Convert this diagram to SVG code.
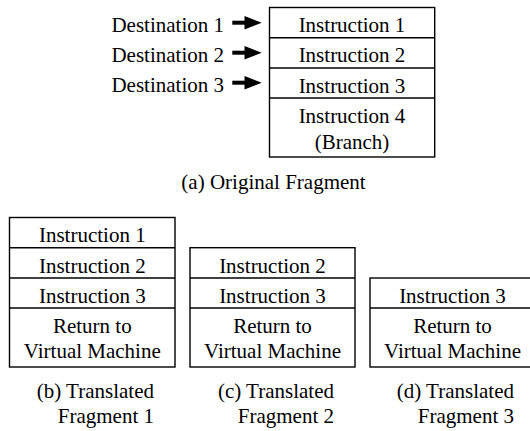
<svg xmlns="http://www.w3.org/2000/svg" width="530" height="431" viewBox="0 0 530 431">
<defs>
<style>
text{font-family:"Liberation Serif","Times New Roman",Times,serif;font-size:21px;fill:#000}
.c{text-anchor:middle}
.e{text-anchor:end}
.box{fill:#fff;stroke:#000;stroke-width:1.4}
.ln{stroke:#000;stroke-width:1.4;fill:none}
</style>
<g id="arrowShape">
<rect x="232.3" y="-2" width="13.5" height="4" fill="#000"/>
<polygon points="244.5,-6.7 261.7,0 244.5,6.7" fill="#000"/>
</g>
</defs>
<rect width="530" height="431" fill="#fff"/>

<g id="original-fragment">
<rect class="box" x="269.5" y="7.5" width="165.2" height="149.5"/>
<line class="ln" x1="269.5" y1="37.7" x2="434.7" y2="37.7"/>
<line class="ln" x1="269.5" y1="68" x2="434.7" y2="68"/>
<line class="ln" x1="269.5" y1="98" x2="434.7" y2="98"/>
<text class="c" x="352" y="32">Instruction 1</text>
<text class="c" x="352" y="62.3">Instruction 2</text>
<text class="c" x="352" y="92.5">Instruction 3</text>
<text class="c" x="352" y="123.3">Instruction 4</text>
<text class="c" x="352" y="149.3">(Branch)</text>
</g>

<g id="destinations">
<text class="e" x="224" y="31.5">Destination 1</text>
<text class="e" x="224" y="61.5">Destination 2</text>
<text class="e" x="224" y="91.5">Destination 3</text>
</g>

<g id="connectors">
<use href="#arrowShape" transform="translate(0,22.7)"/>
<use href="#arrowShape" transform="translate(0,52.7)"/>
<use href="#arrowShape" transform="translate(0,82.7)"/>
</g>

<g id="caption-a">
<text class="c" x="273.5" y="189">(a) Original Fragment</text>
</g>

<g id="fragment-b">
<rect class="box" x="9.5" y="217.5" width="165.5" height="149.5"/>
<line class="ln" x1="9.5" y1="247.7" x2="175" y2="247.7"/>
<line class="ln" x1="9.5" y1="278" x2="175" y2="278"/>
<line class="ln" x1="9.5" y1="308" x2="175" y2="308"/>
<text class="c" x="92.3" y="242.3">Instruction 1</text>
<text class="c" x="92.3" y="272.5">Instruction 2</text>
<text class="c" x="92.3" y="302.5">Instruction 3</text>
<text class="c" x="92.3" y="332.7">Return to</text>
<text class="c" x="92.3" y="358.3">Virtual Machine</text>
<text class="e" x="154" y="398.3">(b) Translated</text>
<text class="e" x="154" y="422.7">Fragment 1</text>
</g>

<g id="fragment-c">
<rect class="box" x="190" y="247.7" width="165" height="119.3"/>
<line class="ln" x1="190" y1="278" x2="355" y2="278"/>
<line class="ln" x1="190" y1="308" x2="355" y2="308"/>
<text class="c" x="272.5" y="272.5">Instruction 2</text>
<text class="c" x="272.5" y="302.5">Instruction 3</text>
<text class="c" x="272.5" y="332.7">Return to</text>
<text class="c" x="272.5" y="358.3">Virtual Machine</text>
<text class="e" x="334" y="398.3">(c) Translated</text>
<text class="e" x="334" y="422.7">Fragment 2</text>
</g>

<g id="fragment-d">
<rect class="box" x="370" y="278" width="165" height="89"/>
<line class="ln" x1="370" y1="308" x2="535" y2="308"/>
<text class="c" x="452.5" y="302.5">Instruction 3</text>
<text class="c" x="452.5" y="332.7">Return to</text>
<text class="c" x="452.5" y="358.3">Virtual Machine</text>
<text class="e" x="514" y="398.3">(d) Translated</text>
<text class="e" x="514" y="422.7">Fragment 3</text>
</g>
</svg>
